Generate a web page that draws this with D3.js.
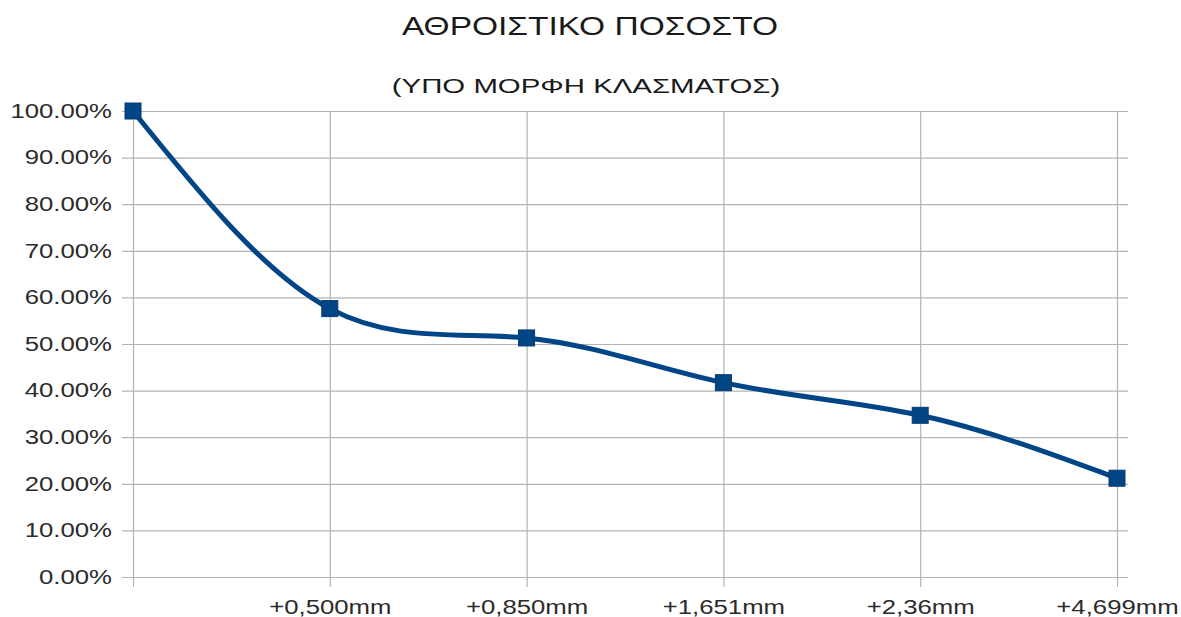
<!DOCTYPE html>
<html>
<head>
<meta charset="utf-8">
<script src="https://cdn.jsdelivr.net/npm/d3@7"></script>
<style>
  html, body { margin: 0; padding: 0; background: #ffffff; }
  svg { display: block; font-family: "Liberation Sans", Arial, sans-serif; }
</style>
</head>
<body>
<svg id="chart" width="1181" height="617"></svg>
<script>
// Sieve sizes (first category is the unlabeled pan/start point)
const categories = ["", "+0,500mm", "+0,850mm", "+1,651mm", "+2,36mm", "+4,699mm"];
// Cumulative passing percentage, as a fraction
const cumulative = [1.000, 0.576, 0.513, 0.417, 0.347, 0.212];
// Y-axis tick values
const yTicks = [0, 0.1, 0.2, 0.3, 0.4, 0.5, 0.6, 0.7, 0.8, 0.9, 1.0];

const title = "ΑΘΡΟΙΣΤΙΚΟ ΠΟΣΟΣΤΟ";
const subtitle = "(ΥΠΟ ΜΟΡΦΗ ΚΛΑΣΜΑΤΟΣ)";

const svg = d3.select("#chart");
const W = 1181, H = 617;
const margin = { left: 133, right: W - 1117, top: 111, bottom: H - 577 };

const x = d3.scalePoint().domain(categories.map((d, i) => i)).range([margin.left, W - margin.right]);
const y = d3.scaleLinear().domain([0, 1]).range([H - margin.bottom, margin.top]);

const gridColor = "#b3b3b3";
const textColor = "#2b2b2b";
const stretch = 1.32; // wide letterforms

// Titles
svg.append("text").attr("transform", `translate(590,35) scale(1.34,1)`)
  .attr("text-anchor", "middle").attr("font-size", 25).attr("fill", "#1a1a1a").text(title);
svg.append("text").attr("transform", `translate(586,93) scale(1.40,1)`)
  .attr("text-anchor", "middle").attr("font-size", 21).attr("fill", "#1a1a1a").text(subtitle);

// Horizontal grid + y axis
const yAxis = d3.axisLeft(y).tickValues(yTicks)
  .tickFormat(d => (d * 100).toFixed(2) + "%")
  .tickSize(-(x.range()[1] - x.range()[0] + 11 + 11));
const gy = svg.append("g").attr("transform", `translate(${margin.left - 11},0)`).call(yAxis);
gy.select(".domain").remove();
gy.selectAll(".tick line").attr("stroke", gridColor).attr("stroke-width", 1.2);
gy.selectAll(".tick text")
  .attr("x", 0)
  .attr("transform", `translate(-10,0) scale(${stretch},1)`)
  .attr("font-size", 19.5).attr("fill", textColor)
  .attr("font-family", "Liberation Sans, Arial, sans-serif");

// Vertical grid + x axis
const xAxis = d3.axisBottom(x).tickFormat(i => categories[i])
  .tickSize(-(y.range()[0] - y.range()[1]));
const gx = svg.append("g").attr("transform", `translate(0,${y(0)})`).call(xAxis);
gx.select(".domain").remove();
gx.selectAll(".tick line").attr("stroke", gridColor).attr("stroke-width", 1.2)
  .attr("y2", 10).attr("y1", -(y.range()[0] - y.range()[1]));
gx.selectAll(".tick text")
  .attr("y", 0).attr("dy", null)
  .attr("transform", `translate(0,37) scale(${stretch},1)`)
  .attr("font-size", 19.5).attr("fill", textColor)
  .attr("font-family", "Liberation Sans, Arial, sans-serif");

// Series line
const line = d3.line().x((d, i) => x(i)).y(d => y(d)).curve(d3.curveNatural);
svg.append("path").datum(cumulative).attr("d", line)
  .attr("fill", "none").attr("stroke", "#004586").attr("stroke-width", 5)
  .attr("stroke-linejoin", "round");

// Square markers
const ms = 16;
svg.append("g").selectAll("rect").data(cumulative).join("rect")
  .attr("x", (d, i) => x(i) - ms / 2).attr("y", d => y(d) - ms / 2)
  .attr("width", ms).attr("height", ms)
  .attr("fill", "#004586").attr("stroke", "#0a3a6e").attr("stroke-width", 1);
</script>
</body>
</html>
